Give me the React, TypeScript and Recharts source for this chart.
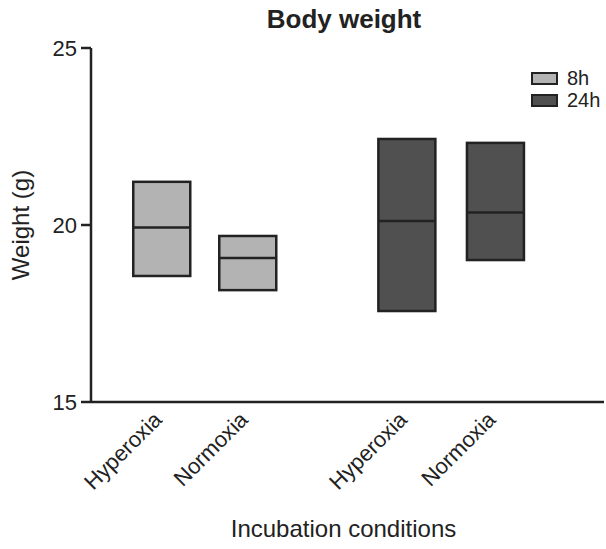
import { BarChart, Bar, XAxis, YAxis, Label, Cell } from "recharts";

// floating bars: min–max with a line at the median
const conditions = ["Hyperoxia", "Normoxia", "Hyperoxia", "Normoxia"];
const groups = ["8h", "8h", "24h", "24h"];
const xPos = [1, 2, 3.85, 4.88];
const minW = [18.56, 18.16, 17.57, 19.01];
const medW = [19.93, 19.07, 20.11, 20.35];
const maxW = [21.22, 19.69, 22.43, 22.32];
const yTicks = [15, 20, 25];

const groupColors: Record<string, string> = { "8h": "#b3b3b3", "24h": "#505050" };
const FONT = "'Liberation Sans', Arial, sans-serif";
const INK = "#222222";

const data = conditions.map((c, i) => ({
  name: c,
  group: groups[i],
  x: xPos[i],
  range: [minW[i], maxW[i]],
  min: minW[i],
  med: medW[i],
  max: maxW[i],
}));

function FloatBox(props: any) {
  const { x, y, width, height, payload, fill } = props;
  const top = Math.min(y, y + height);
  const h = Math.abs(height);
  const medY = top + (h * (payload.max - payload.med)) / (payload.max - payload.min);
  return (
    <g>
      <rect x={x} y={top} width={width} height={h} fill={fill} stroke={INK} strokeWidth={2.5} />
      <line x1={x} x2={x + width} y1={medY} y2={medY} stroke={INK} strokeWidth={2.5} />
    </g>
  );
}

function XTick(props: any) {
  const { x, y, payload } = props;
  const idx = xPos.indexOf(payload.value);
  return (
    <text
      transform={`translate(${x + 2},${y + 19}) rotate(-45)`}
      textAnchor="end"
      fontSize={22}
      fontFamily={FONT}
      fill={INK}
    >
      {conditions[idx]}
    </text>
  );
}

export default function App() {
  return (
    <div style={{ position: "absolute", left: 0, top: 0, width: 606, height: 549, background: "#fff" }}>
      <div
        style={{
          position: "absolute",
          left: 244,
          top: 6,
          width: 200,
          textAlign: "center",
          fontFamily: FONT,
          fontWeight: "bold",
          fontSize: 26,
          lineHeight: "26px",
          color: INK,
        }}
      >
        Body weight
      </div>

      <div style={{ position: "absolute", left: 531, top: 67, fontFamily: FONT, fontSize: 20, color: INK }}>
        {["8h", "24h"].map((g) => (
          <div key={g} style={{ display: "flex", alignItems: "center", height: 22 }}>
            <span
              style={{
                display: "inline-block",
                width: 23,
                height: 9,
                background: groupColors[g],
                border: `2.5px solid ${INK}`,
                marginRight: 9,
              }}
            />
            <span style={{ lineHeight: "22px" }}>{g}</span>
          </div>
        ))}
      </div>

      <BarChart
        width={606}
        height={549}
        data={data}
        margin={{ top: 48, right: 2, bottom: 0, left: 0 }}
      >
        <XAxis
          dataKey="x"
          type="number"
          domain={[0.183, 6.148]}
          ticks={xPos}
          interval={0}
          height={147}
          tickLine={false}
          tickSize={0}
          tickMargin={0}
          tick={<XTick />}
          axisLine={{ stroke: INK, strokeWidth: 2.5 }}
        >
          <Label
            value="Incubation conditions"
            position="insideBottom"
            offset={12}
            dx={-4}
            style={{ fontSize: 24, fontFamily: FONT, fill: INK }}
          />
        </XAxis>
        <YAxis
          type="number"
          domain={[15, 25]}
          ticks={yTicks}
          allowDataOverflow
          width={91}
          tickSize={10}
          tickMargin={4}
          tick={{ fontSize: 22, fontFamily: FONT, fill: INK }}
          tickLine={{ stroke: INK, strokeWidth: 2.5 }}
          axisLine={{ stroke: INK, strokeWidth: 2.5 }}
        >
          <Label
            value="Weight (g)"
            angle={-90}
            position="center"
            dx={-25}
            style={{ fontSize: 24, fontFamily: FONT, fill: INK, textAnchor: "middle" }}
          />
        </YAxis>
        <Bar dataKey="range" barSize={57} shape={<FloatBox />} isAnimationActive={false}>
          {data.map((d, i) => (
            <Cell key={i} fill={groupColors[d.group]} />
          ))}
        </Bar>
      </BarChart>
    </div>
  );
}
